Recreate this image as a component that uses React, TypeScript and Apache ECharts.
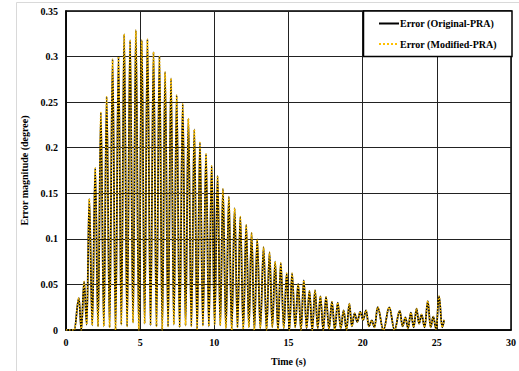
import React, { useEffect, useRef } from "react";
import * as echarts from "echarts";

// Time (s) of each local maximum of the error signal, and its value (degree)
const peakTimes = [
  0.87, 1.22, 1.57, 1.97, 2.35, 2.74, 3.14, 3.54, 3.92, 4.32, 4.71, 5.11, 5.49, 5.9, 6.3, 6.68,
  7.08, 7.46, 7.87, 8.25, 8.65, 9.03, 9.44, 9.82, 10.22, 10.58, 10.98, 11.37, 11.75, 12.15, 12.51,
  12.89, 13.32, 13.72, 14.1, 14.48, 14.88, 15.24, 15.65, 16.03, 16.41, 16.79, 17.15, 17.53, 17.93,
  18.32, 18.72, 19.1, 19.45, 19.83, 20.23, 20.61, 21.01, 21.79, 22.5, 22.88, 23.25, 23.63, 23.97,
  24.39, 24.76, 25.15,
];
const peakValues = [
  0.035, 0.053, 0.144, 0.1775, 0.2386, 0.256, 0.297, 0.3, 0.3246, 0.318, 0.329, 0.318, 0.319, 0.305,
  0.3, 0.283, 0.276, 0.2576, 0.248, 0.232, 0.22, 0.2056, 0.193, 0.18, 0.169, 0.1548, 0.1464, 0.1336,
  0.1244, 0.1153, 0.1068, 0.0995, 0.0908, 0.0853, 0.075, 0.0735, 0.0622, 0.0622, 0.0505, 0.0545,
  0.0428, 0.0435, 0.037, 0.0362, 0.031, 0.03, 0.0215, 0.029, 0.0183, 0.02, 0.0215, 0.0105, 0.025,
  0.0248, 0.0209, 0.0138, 0.019, 0.0235, 0.017, 0.0318, 0.0146, 0.037,
];
// Time (s) of each local minimum and its value (degree)
const troughTimes = [
  1.03, 1.4, 1.77, 2.16, 2.55, 2.94, 3.34, 3.73, 4.12, 4.52, 4.91, 5.3, 5.7, 6.1, 6.49, 6.88, 7.27,
  7.66, 8.06, 8.45, 8.84, 9.23, 9.63, 10.02, 10.4, 10.78, 11.17, 11.56, 11.95, 12.33, 12.7, 13.1,
  13.52, 13.91, 14.29, 14.68, 15.06, 15.45, 15.84, 16.22, 16.6, 16.97, 17.34, 17.73, 18.12, 18.52,
  18.91, 19.27, 19.64, 20.03, 20.42, 20.8, 21.4, 22.15, 22.69, 23.06, 23.44, 23.8, 24.18, 24.58,
  24.95, 25.36,
];
const troughValues = [
  0.0, 0.006, 0.005, 0.004, 0.004, 0.003, 0.0, 0.006, 0.004, 0.008, 0.0, 0.007, 0.005, 0.004, 0.0,
  0.004, 0.006, 0.003, 0.005, 0.004, 0.0, 0.005, 0.004, 0.006, 0.005, 0.002, 0.0, 0.003, 0.001,
  0.003, 0.0, 0.002, 0.0, 0.003, 0.0, 0.002, 0.0, 0.003, 0.0, 0.002, 0.0, 0.002, 0.0, 0.001, 0.0,
  0.002, 0.0, 0.004, 0.009, 0.011, 0.004, 0.003, 0.0, 0.0, 0.004, 0.002, 0.003, 0.007, 0.003, 0.003,
  0.001, 0.003,
];
// Flat start and final sample
const startTimes = [0, 0.55];
const startValues = [0, 0];
const endTimes = [25.49];
const endValues = [0.011];

const xTicks = { min: 0, max: 30, interval: 5 };
const yTicks = { min: 0, max: 0.35, interval: 0.05 };

const seriesNames = ["Error (Original-PRA)", "Error (Modified-PRA)"];

function buildPoints(): [number, number][] {
  const pts: [number, number][] = [];
  startTimes.forEach((t, i) => pts.push([t, startValues[i]]));
  peakTimes.forEach((t, i) => pts.push([t, peakValues[i]]));
  troughTimes.forEach((t, i) => pts.push([t, troughValues[i]]));
  endTimes.forEach((t, i) => pts.push([t, endValues[i]]));
  pts.sort((a, b) => a[0] - b[0]);
  return pts;
}

const FONT = "'Liberation Serif', 'Times New Roman', serif";

export default function App() {
  const ref = useRef<HTMLDivElement>(null);
  useEffect(() => {
    if (!ref.current) return;
    const chart = echarts.init(ref.current, undefined, { renderer: "svg" });
    const original = buildPoints();
    const modified = buildPoints();
    const labelStyle = { fontFamily: FONT, fontWeight: "bold" as const, fontSize: 10, color: "#000" };
    chart.setOption({
      animation: false,
      backgroundColor: "#fff",
      grid: {
        left: 66,
        right: 7,
        top: 11,
        bottom: 41,
        containLabel: false,
        show: true,
        borderColor: "#000",
        borderWidth: 1.5,
        backgroundColor: "transparent",
      },
      graphic: [
        {
          type: "rect",
          z: 0,
          shape: { x: 16.5, y: 2.5, width: 540, height: 400 },
          style: { fill: "none", stroke: "#d9d9d9", lineWidth: 1 },
          silent: true,
        },
        {
          type: "rect",
          z: 3,
          shape: { x: 363.5, y: 11, width: 148.5, height: 45.5 },
          style: { fill: "#fff", stroke: "#000", lineWidth: 1.5 },
          silent: true,
        },
      ],
      legend: {
        orient: "vertical",
        left: 378,
        top: 18.5,
        padding: 0,
        itemWidth: 20,
        itemHeight: 10,
        itemGap: 10.6,
        data: seriesNames,
        itemStyle: { color: "transparent", borderWidth: 0, opacity: 0 },
        textStyle: { ...labelStyle, padding: [0, 0, 0, -4] },
      },
      xAxis: {
        type: "value",
        min: xTicks.min,
        max: xTicks.max,
        interval: xTicks.interval,
        name: "Time (s)",
        nameLocation: "middle",
        nameGap: 26,
        nameTextStyle: labelStyle,
        axisLine: { show: true, lineStyle: { color: "#000", width: 1.5 } },
        axisTick: { show: false },
        axisLabel: { ...labelStyle, margin: 7 },
        splitLine: { show: true, lineStyle: { color: "#222", width: 1 } },
      },
      yAxis: {
        type: "value",
        min: yTicks.min,
        max: yTicks.max,
        interval: yTicks.interval,
        name: "Error magnitude (degree)",
        nameLocation: "middle",
        nameGap: 32,
        nameTextStyle: labelStyle,
        axisLine: { show: true, lineStyle: { color: "#000", width: 1.5 } },
        axisTick: { show: false },
        axisLabel: { ...labelStyle, margin: 8 },
        splitLine: { show: true, lineStyle: { color: "#222", width: 1 } },
      },
      series: [
        {
          name: seriesNames[0],
          type: "line",
          data: original,
          symbol: "none",
          smooth: 0.4,
          smoothMonotone: "x",
          color: "#000",
          lineStyle: { color: "#000", width: 1.75, type: "solid" },
          z: 2,
        },
        {
          name: seriesNames[1],
          type: "line",
          data: modified,
          symbol: "none",
          smooth: 0.4,
          smoothMonotone: "x",
          color: "#FFC000",
          lineStyle: { color: "#FFC000", width: 1.5, type: "dotted" },
          z: 2.5,
        },
      ],
    });
    return () => chart.dispose();
  }, []);
  return (
    <div
      ref={ref}
      style={{ position: "fixed", left: 0, top: 0, width: 519, height: 371 }}
    />
  );
}
